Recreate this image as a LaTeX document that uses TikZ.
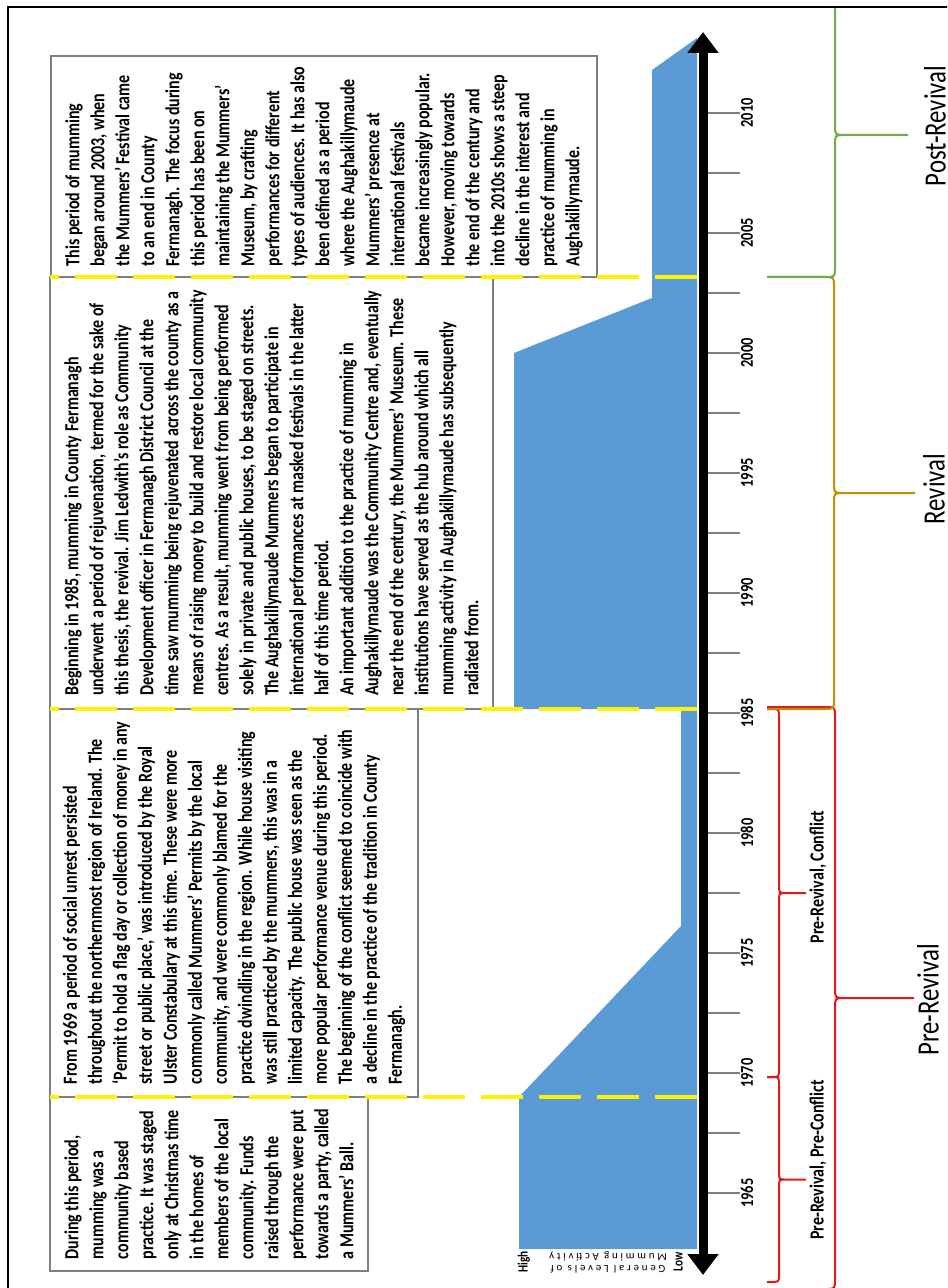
\documentclass[tikz,border=0pt]{standalone}
\usepackage{fontspec}
\setmainfont{Carlito}[FakeStretch=0.8]
\newfontfamily\spacedfont{Carlito}[LetterSpace=25]
\usepackage{tikz}
\usetikzlibrary{arrows.meta}
\definecolor{levelblue}{HTML}{5B9BD5}
\definecolor{prered}{HTML}{E3191C}
\definecolor{revgold}{HTML}{BF9000}
\definecolor{postgreen}{HTML}{70AD47}
\definecolor{boxgray}{HTML}{7F7F7F}
\tikzstyle{textbox} = [rectangle, draw=boxgray, line width=0.75pt, fill=white, rotate=90,
  align=left, inner sep=0pt, font=\fontsize{10}{12.5}\selectfont\bfseries]
\tikzstyle{divider} = [draw=yellow, line width=2pt, dash pattern=on 21pt off 8pt]
\tikzstyle{tick} = [draw=boxgray, line width=0.75pt]
\tikzstyle{yearlabel} = [rotate=90, font=\fontsize{9}{10}\selectfont\bfseries]
\tikzstyle{period} = [rotate=90, font=\fontsize{15.5}{18}\selectfont]
\tikzstyle{subperiod} = [rotate=90, font=\fontsize{10}{12}\selectfont\bfseries]
\tikzstyle{timeline} = [line width=4.5pt,
  {Triangle[length=10.5pt,width=15pt]}-{Triangle[length=10.5pt,width=15pt]}]
% colour, top, bottom, spine x, tip x, corner
\newcommand{\periodbrace}[6]{%
  \pgfmathsetmacro{\ymid}{(#2+#3)/2}
  \draw[#1, line width=1pt] (767,#2) -- ({#4-#6},#2) .. controls (#4,#2) .. (#4,{#2+#6})
    -- (#4,{\ymid-#6}) .. controls (#4,\ymid) .. ({#4+#6},\ymid) -- (#5,\ymid)
    (#5,\ymid) -- ({#4+#6},\ymid) .. controls (#4,\ymid) .. (#4,{\ymid+#6})
    -- (#4,{#3-#6}) .. controls (#4,#3) .. ({#4-#6},#3) -- (767,#3);
}

\begin{document}
\begin{tikzpicture}[x=0.5pt, y=-0.5pt]
  \useasboundingbox (0,0) rectangle (947,1288);
  \clip (0,0) rectangle (947,1288);

  \node[textbox, minimum width=87pt, minimum height=159pt] (preconflict) at (209,1184)
    {During this period,\\ mumming was a\\ community based\\ practice. It was staged\\
     only at Christmas time\\ in the homes of\\ members of the local\\ community. Funds\\
     raised through the\\ performance were put\\ towards a party, called\\ a Mummers’ Ball.};
  \node[textbox, minimum width=194pt, minimum height=184pt] (conflict) at (234,903)
    {From 1969 a period of social unrest persisted\\
     throughout the northernmost region of Ireland. The\\
     ‘Permit to hold a flag day or collection of money in any\\
     street or public place,’ was introduced by the Royal\\
     Ulster Constabulary at this time. These were more\\
     commonly called Mummers’ Permits by the local\\
     community, and were commonly blamed for the\\
     practice dwindling in the region. While house visiting\\
     was still practiced by the mummers, this was in a\\
     limited capacity. The public house was seen as the\\
     more popular performance venue during this period.\\
     The beginning of the conflict seemed to coincide with\\
     a decline in the practice of the tradition in County\\
     Fermanagh.};
  \node[textbox, minimum width=216pt, minimum height=221.5pt] (revival) at (271.5,493)
    {Beginning in 1985, mumming in County Fermanagh\\
     underwent a period of rejuvenation, termed for the sake of\\
     this thesis, the revival. Jim Ledwith’s role as Community\\
     Development officer in Fermanagh District Council at the\\
     time saw mumming being rejuvenated across the county as a\\
     means of raising money to build and restore local community\\
     centres. As a result, mumming went from being performed\\
     solely in private and public houses, to be staged on streets.\\
     The Aughakillymaude Mummers began to participate in\\
     international performances at masked festivals in the latter\\
     half of this time period.\\
     An important addition to the practice of mumming in\\
     Aughakillymaude was the Community Centre and, eventually\\
     near the end of the century, the Mummers’ Museum. These\\
     institutions have served as the hub around which all\\
     mumming activity in Aughakillymaude has subsequently\\
     radiated from.};
  \node[textbox, minimum width=110.5pt, minimum height=273pt] (postrevival) at (324,166.5)
    {This period of mumming\\ began around 2003, when\\ the Mummers’ Festival came\\
     to an end in County\\ Fermanagh. The focus during\\ this period has been on\\
     maintaining the Mummers’\\ Museum, by crafting\\ performances for different\\
     types of audiences. It has also\\ been defined as a period\\ where the Aughakillymaude\\
     Mummers’ presence at\\ international festivals\\ became increasingly popular.\\
     However, moving towards\\ the end of the century and\\ into the 2010s shows a steep\\
     decline in the interest and\\ practice of mumming in\\ Aughakillymaude.};

  \fill[levelblue] (697,38) -- (652,70) -- (652,298) -- (514,353) -- (514,709) -- (681,709)
    -- (681,926) -- (519,1097) -- (519,1249) -- (697,1249) -- cycle;
  \foreach \y in {277,709,1097}
    \draw[divider] (697,\y) -- (50,\y);

  \foreach \k in {0,...,18}
    \draw[tick] (707,{113+60*\k}) -- (740,{113+60*\k});
  \foreach \yr [count=\i from 0] in {2010,2005,...,1965}
    \node[yearlabel] (year\yr) at (747,{113+120*\i}) {\yr};
  \coordinate (past) at (703,1275);
  \coordinate (future) at (703,32);
  \draw[timeline] (past) -- (future);

  \node[rotate=90, font=\fontsize{7}{8}\selectfont\bfseries] (high) at (524,1262) {High};
  \node[rotate=90, font=\fontsize{7}{8}\selectfont\bfseries] (low) at (678,1262) {Low};
  \node[rotate=180, align=center, inner sep=0pt, font=\fontsize{5.5}{6}\spacedfont] (levels)
    at (608,1262) {General Levels of\\ Mumming Activity};

  \begin{scope}
    \clip (0,8) rectangle (947,1288);
    \periodbrace{prered}{707}{1289}{835}{914}{10}
    \periodbrace{prered}{709}{1077}{779}{806}{8}
    \periodbrace{prered}{1077}{1282}{779}{806}{8}
    \periodbrace{revgold}{277}{709}{834}{915}{10}
    \periodbrace{postgreen}{-7}{277}{835}{908}{10}
  \end{scope}
  \node[period] (prerevivallabel) at (928,1000) {Pre-Revival};
  \node[period] (revivallabel) at (934,489) {Revival};
  \node[period] (postrevivallabel) at (935,126) {Post-Revival};
  \node[subperiod] (conflictlabel) at (818,877) {Pre-Revival, Conflict};
  \node[subperiod] (preconflictlabel) at (818,1160) {Pre-Revival, Pre-Conflict};

  \draw[line width=1pt] (8,7) rectangle (960,1300);
\end{tikzpicture}
\end{document}
